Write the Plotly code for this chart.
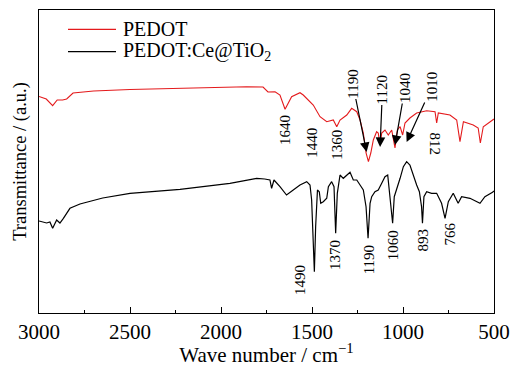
import plotly.graph_objects as go

# PEDOT spectrum (wavenumber, transmittance a.u.)
pedot_wn = [3000, 2960, 2925, 2900, 2870, 2848, 2813, 2700, 2500, 2200, 2000, 1859, 1769, 1742, 1703, 1676,
            1648, 1612, 1566, 1548, 1493, 1456, 1419, 1383, 1364, 1346, 1309, 1282, 1254, 1236, 1218, 1203,
            1190, 1177, 1163, 1145, 1136, 1126, 1117, 1099, 1081, 1062, 1044, 1031, 1016, 1002, 989, 962,
            925, 870, 824, 815, 806, 742, 705, 687, 668, 614, 587, 575, 559, 532, 508, 500]
pedot_px = [96.5, 99, 105.7, 100, 100, 99, 93, 91, 89.5, 88, 87.3, 86.7, 87, 92, 91.7, 95,
            109.3, 96.7, 92.7, 95, 105, 116.7, 121.7, 120, 126.7, 120, 115, 108.3, 111.7, 120, 133, 153,
            161.7, 153, 140, 131.7, 133, 145, 133, 130, 135, 130, 148, 130, 126.7, 135, 123, 118,
            113, 110.7, 111.7, 123, 113, 115, 120, 141.7, 121.7, 125, 128, 143, 126.7, 123.3, 120, 119]
pedot_t = [313 - v for v in pedot_px]

# PEDOT:Ce@TiO2 spectrum
comp_wn = [3000, 2980, 2958, 2940, 2925, 2903, 2885, 2866, 2830, 2775, 2650, 2500, 2225, 1951, 1804, 1760,
           1731, 1722, 1709, 1676, 1640, 1603, 1566, 1529, 1511, 1502, 1493, 1487, 1480, 1470, 1460, 1452,
           1438, 1419, 1410, 1392, 1379, 1370, 1361, 1346, 1328, 1309, 1291, 1273, 1254, 1236, 1218, 1203,
           1192, 1181, 1172, 1154, 1136, 1117, 1099, 1084, 1075, 1066, 1057, 1048, 1035, 1016, 998, 980,
           962, 947, 938, 925, 910, 898, 893, 885, 870, 843, 815, 788, 769, 751, 724, 697, 678, 632, 577,
           550, 508, 500]
comp_px = [221, 222, 223, 222, 228.3, 220, 223, 218.3, 208.3, 204, 198, 193.3, 189.3, 183.3, 178.3, 179,
           180, 188.3, 180, 186.7, 195, 190, 185, 181.7, 185, 200, 243, 271.7, 226.7, 190, 191.7, 203.3,
           201.7, 198.3, 186.7, 181.7, 186.7, 233.3, 193.3, 175, 178.3, 175, 172.3, 180, 180, 185, 190, 206.7,
           238.3, 203.3, 196.7, 191.7, 190, 183.3, 176.7, 175, 190, 206.7, 223.3, 196.7, 190, 178.3, 166.7, 161.7,
           165, 173.3, 180, 185, 191.7, 206.7, 223.3, 196.7, 191.7, 193.3, 193.3, 203.3, 218.3, 201.7, 193.3, 203.3, 196.7, 198.3, 203.3,
           196.7, 192.3, 191]
comp_t = [313 - v for v in comp_px]

series_names = ["PEDOT", "PEDOT:Ce@TiO<sub>2</sub>"]
series_colors = ["#e41a1c", "black"]

# peak labels without arrows: (text, wavenumber position, y position, angle)
comp_labels = [("1490", 1566, 33), ("1370", 1374, 58), ("1190", 1185, 53),
               ("1060", 1053, 68), ("893", 888, 73), ("766", 742, 79.5)]
pedot_labels = [("1640", 1648, 183, -90), ("1440", 1502, 170, -90), ("1360", 1364, 168, -90),
                ("812", 824, 169.5, 90)]
# arrowed labels: text, label centre (wn, y) -> arrow tip (wn, y)
arrow_labels = [("1190", 1276, 229, 1200, 161), ("1120", 1113, 223, 1126, 166),
                ("1040", 989, 225, 1044, 168), ("1010", 842, 226, 980, 171)]

FONT = "Liberation Serif"

fig = go.Figure()
fig.add_trace(go.Scatter(x=pedot_wn, y=pedot_t, mode="lines", name=series_names[0],
                         line=dict(color=series_colors[0], width=1.1)))
fig.add_trace(go.Scatter(x=comp_wn, y=comp_t, mode="lines", name=series_names[1],
                         line=dict(color=series_colors[1], width=1.2)))

ann = []
for t, x, y in comp_labels:
    ann.append(dict(x=x, y=y, text=t, showarrow=False, textangle=-90,
                    font=dict(family=FONT, size=15, color="black")))
for t, x, y, a in pedot_labels:
    ann.append(dict(x=x, y=y, text=t, showarrow=False, textangle=a,
                    font=dict(family=FONT, size=15, color="black")))
for t, ax, ay, x, y in arrow_labels:
    ann.append(dict(x=x, y=y, ax=ax, ay=ay, axref="x", ayref="y", text=t, textangle=-90,
                    showarrow=True, font=dict(family=FONT, size=15, color="black"),
                    arrowhead=2, arrowsize=1.6, arrowwidth=1.2, arrowcolor="black", standoff=0,
                    borderpad=0))

# manual legend (plot area in px: x 39..494, y 10..313)
shapes = []
leg_y = [(313 - 29.3) / 303, (313 - 51.7) / 303]
for name, col, yy in zip(series_names, series_colors, leg_y):
    shapes.append(dict(type="line", xref="paper", yref="paper", x0=(68 - 39) / 455, x1=(116 - 39) / 455,
                       y0=yy, y1=yy, line=dict(color=col, width=1.3)))
    ann.append(dict(xref="paper", yref="paper", x=(121 - 39) / 455, y=yy, xanchor="left", yanchor="middle",
                    text=name, showarrow=False, font=dict(family=FONT, size=20, color="black")))

fig.update_layout(
    width=510, height=367,
    margin=dict(l=39, r=16, t=10, b=54),
    paper_bgcolor="white", plot_bgcolor="white",
    font=dict(family=FONT, color="black", size=19),
    annotations=ann, shapes=shapes,
    showlegend=False,
    xaxis=dict(range=[3000, 500], tickmode="linear", tick0=500, dtick=500,
               ticks="inside", ticklen=6, tickwidth=1, tickcolor="black",
               minor=dict(dtick=250, ticks="inside", ticklen=3, tickcolor="black"),
               showline=True, linecolor="black", linewidth=1.2, mirror=True,
               showgrid=False, zeroline=False, automargin=False,
               tickfont=dict(family=FONT, size=21),
               title=dict(text="Wave number / cm<sup>−1</sup>", font=dict(family=FONT, size=21), standoff=4)),
    yaxis=dict(range=[0, 303], showticklabels=False, ticks="",
               showline=True, linecolor="black", linewidth=1.2, mirror=True,
               showgrid=False, zeroline=False, automargin=False,
               title=dict(text="Transmittance / (a.u.)", font=dict(family=FONT, size=18.5), standoff=6)),
)

fig.write_html("out.html")
